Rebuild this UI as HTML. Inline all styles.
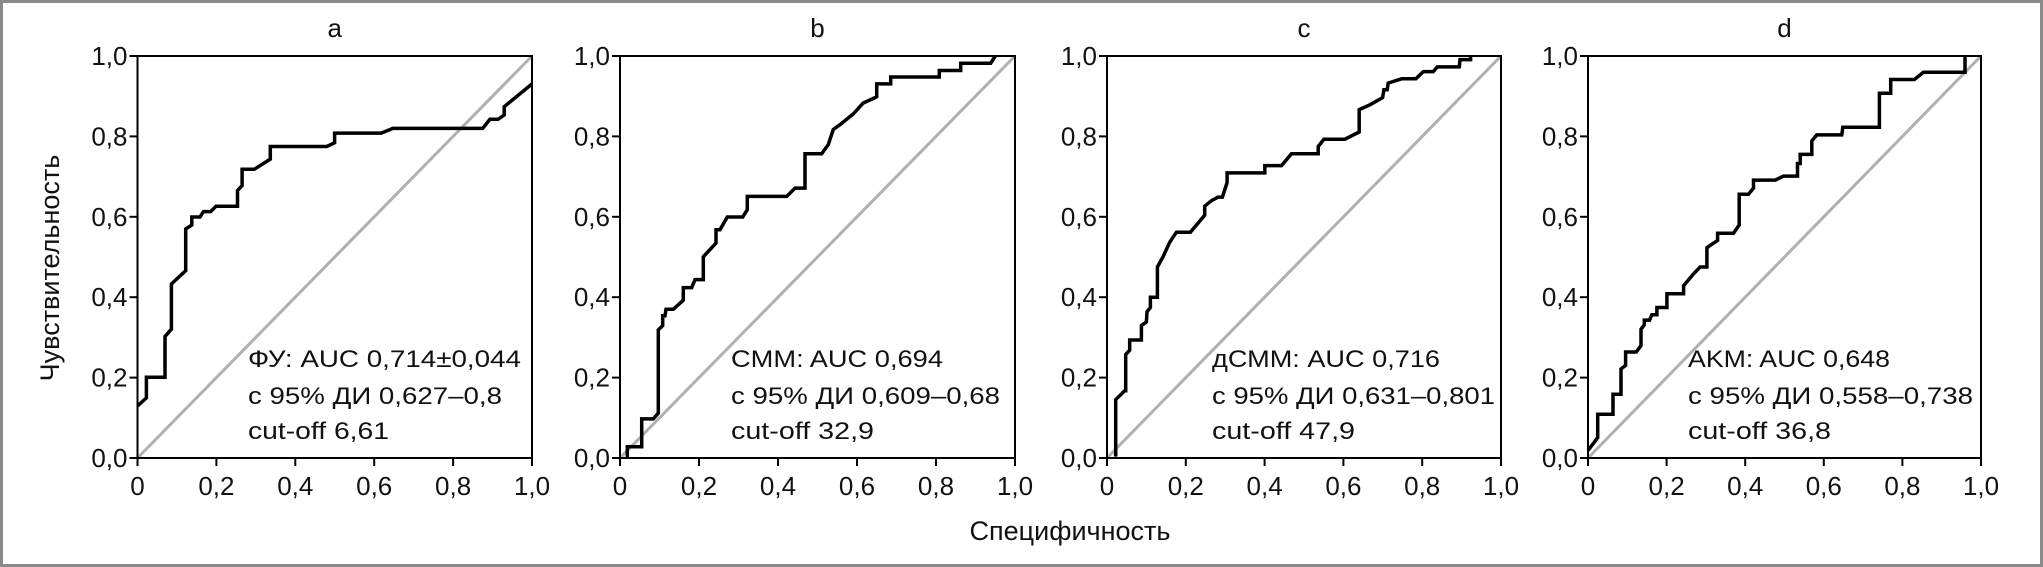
<!DOCTYPE html>
<html><head><meta charset="utf-8"><style>
html,body{margin:0;padding:0;background:#fff;}
svg{display:block;}
text{font-family:"Liberation Sans",Arial,sans-serif;fill:#111;}
</style></head><body>
<svg id="s" width="2043" height="567" viewBox="0 0 2043 567" xmlns="http://www.w3.org/2000/svg">
<rect x="1.5" y="1.5" width="2040" height="564" fill="#fff" stroke="#8a8a8a" stroke-width="3"/>
<text x="52" y="268" font-size="27" text-anchor="middle" transform="rotate(-90 52 268)" dominant-baseline="middle">Чувствительность</text>
<text x="1070" y="540" font-size="27" text-anchor="middle">Специфичность</text>
</svg>
<script>
var NS="http://www.w3.org/2000/svg",S=document.getElementById("s");
function el(t,a,txt){var e=document.createElementNS(NS,t);for(var k in a)e.setAttribute(k,a[k]);if(txt!=null)e.textContent=txt;S.appendChild(e);return e;}
var Y0=458,Y1=56;
var panels=[
{x0:137.5,x1:532,title:"a",tx:248,lines:[["ФУ: AUC 0,714±0,044",273],["с 95% ДИ 0,627–0,8",254],["cut-off 6,61",141]],
 cal:[385,1490,1266,155],pts:[[385,1122],[410,1100],[410,1043],[462,1043],[462,930],[480,910],[480,785],[520,748],[520,633],[537,622],[537,600],[560,600],[570,585],[590,585],[605,570],[665,570],[665,527],[678,513],[678,468],[712,468],[757,440],[757,405],[915,405],[937,395],[937,368],[1068,368],[1100,355],[1352,355],[1372,330],[1395,330],[1412,318],[1412,295],[1490,232]]},
{x0:620,x1:1015,title:"b",tx:731,lines:[["CMM: AUC 0,694",212],["с 95% ДИ 0,609–0,68",269],["cut-off 32,9",143]],
 cal:[240,1425,1266,155],pts:[[262,1266],[262,1235],[305,1235],[305,1158],[340,1158],[355,1142],[355,912],[368,900],[368,873],[375,873],[378,855],[400,855],[430,830],[430,795],[455,795],[465,773],[490,773],[490,710],[528,672],[528,635],[540,635],[562,600],[608,600],[622,580],[622,543],[740,543],[765,520],[795,520],[795,425],[845,425],[865,400],[880,358],[900,345],[940,315],[970,285],[1010,268],[1010,232],[1052,232],[1052,213],[1198,213],[1198,195],[1262,195],[1262,175],[1352,175],[1366,155]]},
{x0:1107,x1:1501,title:"c",tx:1212,lines:[["дСММ: AUC 0,716",228],["с 95% ДИ 0,631–0,801",283],["cut-off 47,9",143]],
 cal:[232,1413,1266,155],pts:[[258,1262],[258,1105],[285,1080],[288,1080],[288,980],[300,968],[300,940],[335,940],[335,900],[350,890],[352,862],[362,850],[362,822],[383,822],[383,738],[400,710],[420,670],[440,642],[482,642],[525,595],[525,570],[545,555],[565,545],[578,545],[592,505],[592,478],[705,478],[705,458],[755,458],[785,425],[865,425],[865,405],[882,385],[945,385],[988,365],[988,303],[1020,290],[1058,270],[1062,248],[1072,248],[1075,230],[1115,218],[1158,218],[1180,198],[1210,198],[1222,185],[1288,185],[1290,165],[1322,165],[1322,155]]},
{x0:1588,x1:1981,title:"d",tx:1688,lines:[["AKM: AUC 0,648",202],["с 95% ДИ 0,558–0,738",285],["cut-off 36,8",143]],
 cal:[203,1383,1266,155],pts:[[203,1245],[232,1210],[232,1145],[278,1145],[278,1090],[302,1090],[302,1020],[316,1010],[316,973],[348,973],[362,955],[362,910],[372,898],[372,885],[388,885],[395,870],[410,870],[410,850],[440,850],[440,812],[490,812],[490,790],[520,757],[540,738],[560,738],[560,685],[575,675],[592,665],[592,645],[640,645],[657,622],[657,537],[685,537],[700,520],[700,498],[765,498],[790,487],[832,487],[832,452],[840,452],[840,427],[875,427],[875,390],[890,373],[965,373],[968,352],[1078,352],[1078,258],[1112,258],[1112,220],[1183,220],[1210,200],[1335,200],[1335,155]]}
];
var labs=["0","0,2","0,4","0,6","0,8","1,0"],ylabs=["0,0","0,2","0,4","0,6","0,8","1,0"];
panels.forEach(function(p){
  var W=p.x1-p.x0,H=Y0-Y1;
  el("text",{x:(p.x0+p.x1)/2,y:37,"font-size":26,"text-anchor":"middle"},p.title);
  el("line",{x1:p.x0,y1:Y0,x2:p.x1,y2:Y1,stroke:"#b0b0b0","stroke-width":3});
  var c=p.cal,d="";
  p.pts.forEach(function(q,i){
    var fx=(q[0]-c[0])/(c[1]-c[0]),fy=(c[2]-q[1])/(c[2]-c[3]);
    fx=Math.max(0,Math.min(1,fx));fy=Math.max(0,Math.min(1,fy));
    d+=(i?"L":"M")+(p.x0+fx*W).toFixed(1)+" "+(Y0-fy*H).toFixed(1);
  });
  el("path",{d:d,fill:"none",stroke:"#000","stroke-width":3.5,"stroke-linejoin":"miter"});
  el("rect",{x:p.x0,y:Y1,width:W,height:H,fill:"none",stroke:"#000","stroke-width":2});
  for(var i=0;i<=5;i++){
    var x=p.x0+W*i/5,y=Y0-H*i/5;
    el("line",{x1:x,y1:Y0,x2:x,y2:Y0+8,stroke:"#000","stroke-width":2});
    el("line",{x1:p.x0-8,y1:y,x2:p.x0,y2:y,stroke:"#000","stroke-width":2});
    el("text",{x:x,y:495,"font-size":26,"text-anchor":"middle"},labs[i]);
    el("text",{x:p.x0-10,y:y+9,"font-size":26,"text-anchor":"end"},ylabs[i]);
  }
  var by=[367,404,439];
  p.lines.forEach(function(l,i){
    el("text",{x:p.tx,y:by[i],"font-size":24,textLength:l[1],lengthAdjust:"spacingAndGlyphs"},l[0]);
  });
});
</script>
</body></html>
